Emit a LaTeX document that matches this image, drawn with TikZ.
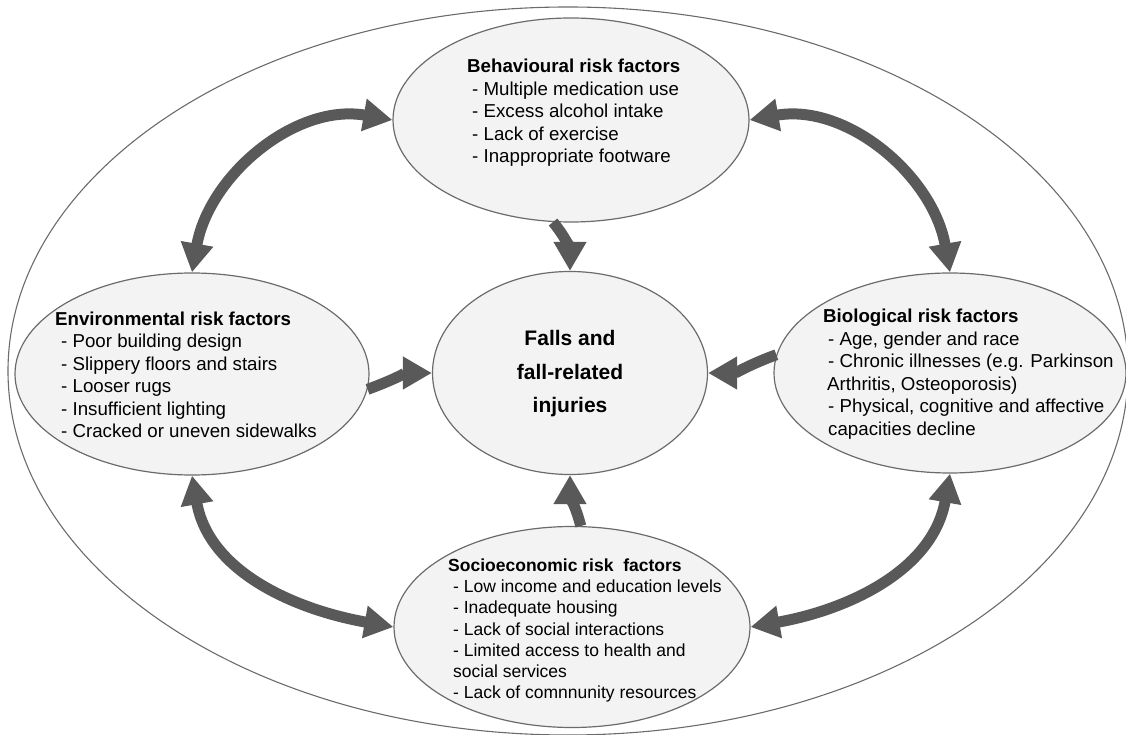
\documentclass[tikz,border=0pt]{standalone}
\usepackage{fontspec}
\setmainfont{Liberation Sans}
\usetikzlibrary{shapes.geometric, arrows.meta}
\definecolor{arrowgray}{HTML}{595959}
\definecolor{fillgray}{HTML}{F3F3F3}
\definecolor{edgegray}{HTML}{6B6B6B}
\begin{document}
\begin{tikzpicture}[x=1pt,y=1pt,
  riskbox/.style={ellipse, draw=edgegray, fill=fillgray, line width=1.2pt, inner sep=0pt},
  blocktext/.style={font=\fontsize{18.7}{22.5}\selectfont, align=left, anchor=base west, inner sep=0pt},
  smalltext/.style={font=\fontsize{17.5}{21.1}\selectfont, align=left, anchor=base west, inner sep=0pt},
  conn/.style={line width=11pt, draw=arrowgray, -{Triangle[width=31pt,length=29pt]}},
  biconn/.style={line width=11pt, draw=arrowgray, {Triangle[width=31pt,length=29pt]}-{Triangle[width=31pt,length=29pt]}}
]
\useasboundingbox (0,0) rectangle (1126,734);
\node[ellipse, draw=edgegray, line width=1.1pt, minimum width=1120pt, minimum height=728pt, inner sep=0pt] (outer) at (568,363) {};

\node[riskbox, minimum width=356pt, minimum height=204pt] (top) at (571,614) {};
\node[riskbox, minimum width=354pt, minimum height=202pt] (left) at (192,360) {};
\node[riskbox, minimum width=352pt, minimum height=200pt] (right) at (950,361) {};
\node[riskbox, minimum width=356pt, minimum height=201pt] (bottom) at (572,107) {};
\node[riskbox, minimum width=275pt, minimum height=203pt] (center) at (570,361) {};

% double arrows between outer factors
\draw[biconn] (top.west) to[out=170, in=80] (left.north);
\draw[biconn] (left.south) to[out=-80, in=170] (bottom.west);
\draw[biconn] (top.east) to[out=10, in=100] (right.north);
\draw[biconn] (bottom.east) to[out=10, in=-100] (right.south);

% arrows into the centre
\draw[conn] (top.-100) to[out=-50, in=90] (center.north);
\draw[conn] (left.-5) to[out=20, in=180] (center.west);
\draw[conn] (right.174) to[out=200, in=0] (center.east);
\draw[conn] (bottom.85) to[out=105, in=-90] (center.south);

% texts (anchor = baseline of the last line)
\node[blocktext] (toptext) at (467,571) {\textbf{Behavioural risk factors}\\
\hspace*{5pt}- Multiple medication use\\
\hspace*{5pt}- Excess alcohol intake\\
\hspace*{5pt}- Lack of exercise\\
\hspace*{5pt}- Inappropriate footware};

\node[blocktext] (lefttext) at (55,296) {\textbf{Environmental risk factors}\\
\hspace*{6pt}- Poor building design\\
\hspace*{6pt}- Slippery floors and stairs\\
\hspace*{6pt}- Looser rugs\\
\hspace*{6pt}- Insufficient lighting\\
\hspace*{6pt}- Cracked or uneven sidewalks};

\node[blocktext] (righttext) at (823,298.5) {\textbf{Biological risk factors}\\
\hspace*{5pt}- Age, gender and race\\
\hspace*{5pt}- Chronic illnesses (e.g. Parkinson\\
\hspace*{4pt}Arthritis, Osteoporosis)\\
\hspace*{5pt}- Physical, cognitive and affective\\
\hspace*{5pt}capacities decline};

\node[smalltext] (bottomtext) at (448,35.7) {\textbf{Socioeconomic risk\ \ factors}\\
\hspace*{5pt}- Low income and education levels\\
\hspace*{5pt}- Inadequate housing\\
\hspace*{5pt}- Lack of social interactions\\
\hspace*{5pt}- Limited access to health and\\
\hspace*{5pt}social services\\
\hspace*{5pt}- Lack of comnnunity resources};

\node[font=\bfseries\fontsize{21}{33.5}\selectfont, align=center, anchor=base, inner sep=0pt] (centertext) at (570,321) {Falls and\\fall-related\\injuries};
\end{tikzpicture}
\end{document}
